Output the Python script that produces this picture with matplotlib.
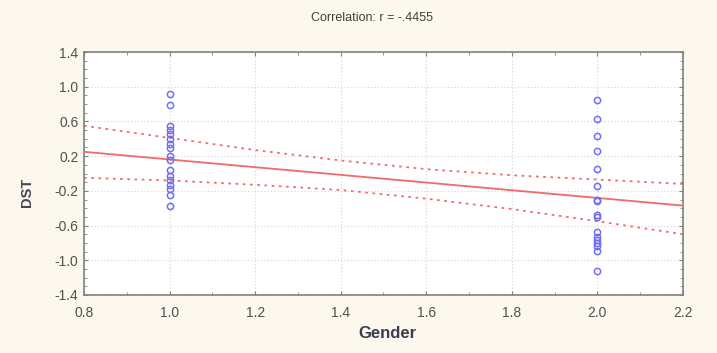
import matplotlib.pyplot as plt
from matplotlib.ticker import MultipleLocator, FixedLocator, FormatStrFormatter

plt.rcParams['font.family'] = ['Liberation Sans', 'DejaVu Sans']

# Scatter data
gender_1 = [0.92, 0.79, 0.55, 0.50, 0.46, 0.40, 0.34, 0.29, 0.20, 0.16,
            0.04, -0.03, -0.08, -0.13, -0.18, -0.25, -0.38]
gender_2 = [0.85, 0.63, 0.43, 0.26, 0.05, -0.14, -0.30, -0.32, -0.48, -0.50,
            -0.67, -0.73, -0.77, -0.80, -0.84, -0.89, -1.12]

# Fit line and 95% band
fit_x = [0.8, 2.2]
fit_y = [0.25, -0.37]
band_x = [0.8, 1.0, 1.2, 1.4, 1.6, 1.8, 2.0, 2.2]
band_upper = [0.55, 0.41, 0.27, 0.15, 0.05, -0.02, -0.07, -0.12]
band_lower = [-0.05, -0.08, -0.13, -0.19, -0.29, -0.41, -0.55, -0.70]

y_ticks = [-1.4, -1.0, -0.6, -0.2, 0.2, 0.6, 1.0, 1.4]

fig = plt.figure(figsize=(7.17, 3.53), dpi=100)
fig.patch.set_facecolor('#fcf8ee')
ax = fig.add_axes([84 / 717, 1 - 295 / 353, 599 / 717, 243 / 353])
ax.set_facecolor('white')

# Grid
ax.grid(True, which='major', color='#d4d4d4', linestyle=(0, (1, 2)), linewidth=0.8, zorder=0)

# Bands and fit line
ax.plot(band_x, band_upper, color='#f07070', linestyle=(0, (1.5, 2.5)), linewidth=1.3, zorder=2)
ax.plot(band_x, band_lower, color='#f07070', linestyle=(0, (1.5, 2.5)), linewidth=1.3, zorder=2)
ax.plot(fit_x, fit_y, color='#f06a6a', linewidth=1.3, zorder=3)

# Points
ax.plot([1.0] * len(gender_1), gender_1, 'o', mfc='none', mec='#7070f0', ms=4.5, mew=1.1, zorder=4)
ax.plot([2.0] * len(gender_2), gender_2, 'o', mfc='none', mec='#7070f0', ms=4.5, mew=1.1, zorder=4)

ax.set_xlim(0.8, 2.2)
ax.set_ylim(-1.4, 1.4)
ax.xaxis.set_major_locator(MultipleLocator(0.2))
ax.xaxis.set_minor_locator(MultipleLocator(0.1))
ax.yaxis.set_major_locator(FixedLocator(y_ticks))
ax.yaxis.set_minor_locator(MultipleLocator(0.1))
ax.xaxis.set_major_formatter(FormatStrFormatter('%.1f'))
ax.yaxis.set_major_formatter(FormatStrFormatter('%.1f'))

ax.tick_params(which='both', direction='in', top=True, right=True, color='#808080')
ax.tick_params(which='major', length=3, width=0.8, labelsize=10, labelcolor='#505050', pad=4)
ax.tick_params(axis='x', which='major', pad=8)
ax.tick_params(which='minor', length=2, width=0.6)
for s in ax.spines.values():
    s.set_color('#808080')
    s.set_linewidth(1.2)

fig.text(372 / 717, 1 - 18 / 353, 'Correlation: r = -.4455', ha='center', va='center',
         fontsize=9, color='#404040')
fig.text(387 / 717, 1 - 333 / 353, 'Gender', ha='center', va='center',
         fontsize=12, fontweight='bold', color='#3c3c50')
fig.text(27 / 717, 1 - 192 / 353, 'DST', ha='center', va='center', rotation=90,
         fontsize=10.5, fontweight='bold', color='#454555')

plt.savefig('out.png', dpi=100, facecolor=fig.get_facecolor())
